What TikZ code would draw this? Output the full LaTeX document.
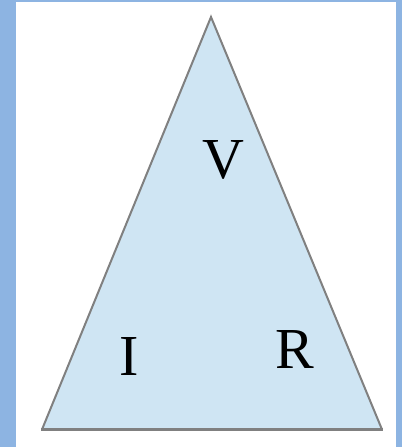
\documentclass[tikz,border=0pt]{standalone}
\usepackage{fontspec}
\setmainfont{Liberation Serif}
\definecolor{bordercol}{HTML}{8DB4E2}
\definecolor{trifill}{HTML}{CFE5F3}
\definecolor{edgecol}{HTML}{808080}
\begin{document}
\begin{tikzpicture}[x=1pt,y=-1pt,
  lbl/.style={inner sep=0pt, anchor=base, font=\fontsize{58}{60}\selectfont, text=black}]
\useasboundingbox (0,0) rectangle (402,447);
\fill[bordercol] (0,0) rectangle (402,447);
\fill[white] (16,2) rectangle (396,447);
\coordinate (apex) at (211,17);
\coordinate (bl) at (42,429.5);
\coordinate (br) at (382,429.5);
\fill[trifill] (apex) -- (br) -- (bl) -- cycle;
\draw[edgecol, line width=2pt, line join=miter] (bl) -- (apex) -- (br);
\draw[edgecol, line width=3.5pt] ([xshift=-1pt]bl) -- ([xshift=1pt]br);
\node[lbl] (v) at (223,178) {V};
\node[lbl] (i) at (129,375) {I};
\node[lbl] (r) at (295,368) {R};
\end{tikzpicture}
\end{document}
